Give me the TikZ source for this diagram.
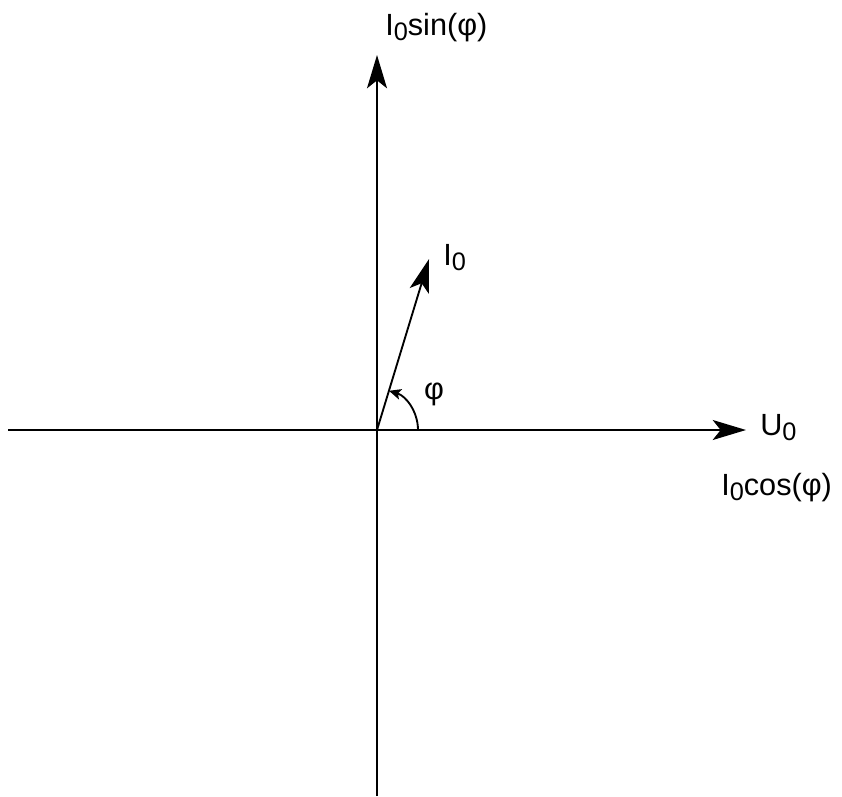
\documentclass[tikz,border=0pt]{standalone}
\usepackage{fontspec}
\setmainfont{Liberation Sans}
\usetikzlibrary{arrows.meta, positioning}

% large, lowered subscript
\newcommand{\lowsub}[1]{\raisebox{-4pt}{\fontsize{19}{21}\selectfont #1}}

\begin{document}
\begin{tikzpicture}[
            x=0.75pt, y=-0.75pt,
            axis/.style={line width=1.4pt, -{Stealth[length=25pt, width=15pt, inset=6pt]}},
            arcarr/.style={line width=1.4pt, -{Stealth[length=9pt, width=8pt, inset=2pt]}},
            lbl/.style={font=\fontsize{23}{25}\selectfont, inner sep=0pt}]

            \useasboundingbox (0,0) rectangle (842,796);

            % origin and axis ends
            \coordinate (O)    at (377,430);
            \coordinate (xl)   at (8,430);
            \coordinate (xr)   at (746,430);
            \coordinate (yb)   at (377,796);
            \coordinate (yt)   at (377,55);
            \coordinate (itip) at (429,259);

            \draw[axis] (xl) -- (xr);
            \draw[axis] (yb) -- (yt);
            \draw[axis] (O) -- (itip);

            % phase angle
            \draw[arcarr] ([shift={(0:41)}]O) arc[start angle=0, end angle=-73, radius=41];

            \node[lbl, anchor=base west] (isin) at (385,35)  {I\lowsub{0}sin(φ)};
            \node[lbl, anchor=base west] (ivec) at (443,265) {I\lowsub{0}};
            \node[lbl]                   (phi)  at (434,394) {φ};
            \node[lbl, anchor=base west] (uo)   at (760,435) {U\lowsub{0}};
            \node[lbl, anchor=base west] (icos) at (721,495) {I\lowsub{0}cos(φ)};
        \end{tikzpicture}
\end{document}
